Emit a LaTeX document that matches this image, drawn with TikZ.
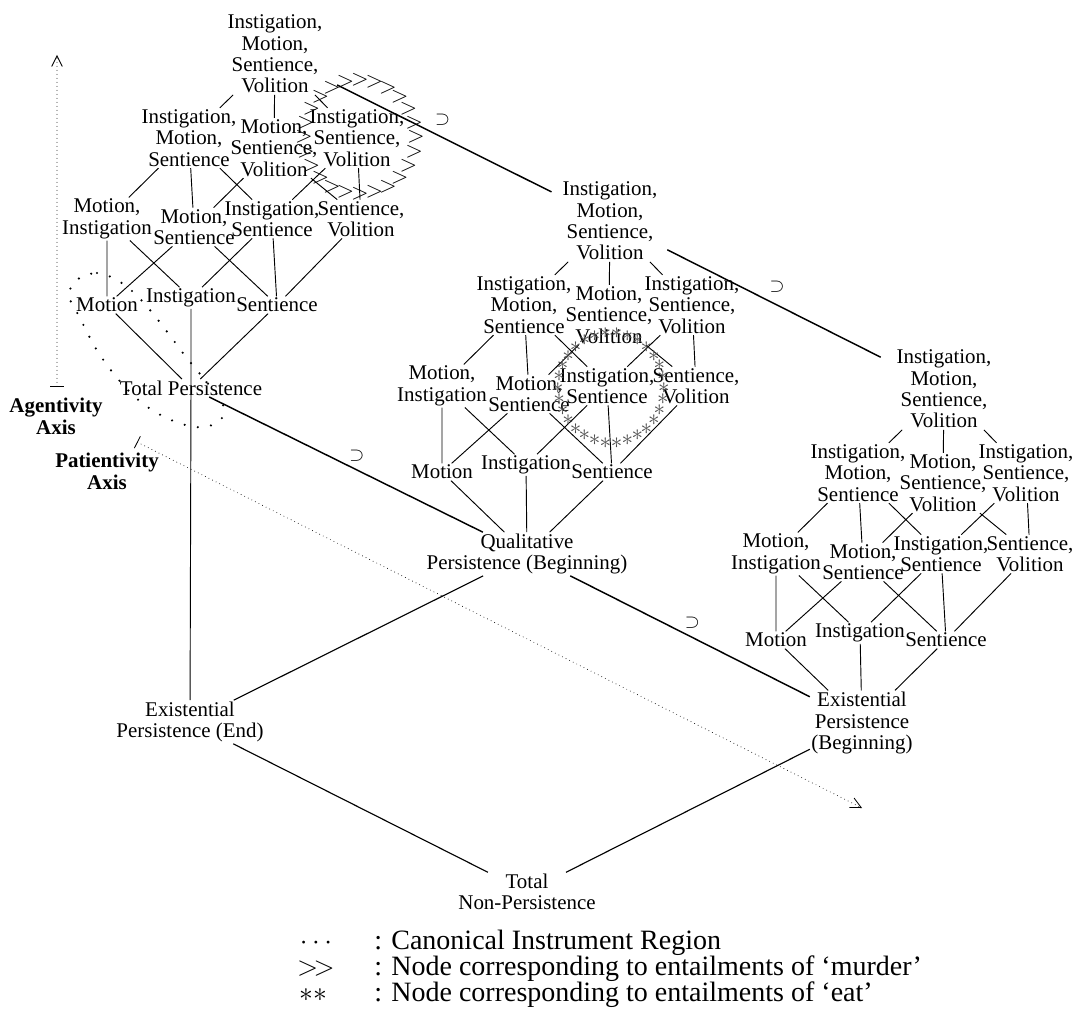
\documentclass[tikz,border=0pt]{standalone}
\usepackage{fontspec}
\setmainfont{Liberation Serif}
\usetikzlibrary{arrows.meta,calc}
\newcommand\mylattice[3]{%
\begin{scope}[shift={(#2,#3)}]
\node[lab] (#1t) at (275,54) {Instigation,\\Motion,\\Sentience,\\Volition};
\node[lab] (#1ims) at (189,138) {Instigation,\\Motion,\\Sentience};
\node[lab] (#1msv) at (274,148) {Motion,\\Sentience,\\Volition};
\node[lab] (#1isv) at (357,138) {Instigation,\\Sentience,\\Volition};
\node[lab] (#1mi) at (107,219) {Motion,\\Instigation};
\node[lab] (#1ms) at (194,227) {Motion,\\Sentience};
\node[lab] (#1is) at (272,219) {Instigation,\\Sentience};
\node[lab] (#1sv) at (361,219) {Sentience,\\Volition};
\node[lab] (#1m) at (107,305) {Motion};
\node[lab] (#1i) at (191,298) {Instigation};
\node[lab] (#1s) at (277,305) {Sentience};
\draw[edge] (#1t)--(#1ims) (#1t)--(#1msv) (#1t)--(#1isv)
  (#1ims)--(#1mi) (#1ims)--(#1ms) (#1ims)--(#1is)
  (#1msv)--(#1ms) (#1msv)--(#1sv)
  (#1isv)--(#1is) (#1isv)--(#1sv)
  (#1mi)--(#1m) (#1mi)--(#1i) (#1ms)--(#1m) (#1ms)--(#1s)
  (#1is)--(#1i) (#1is)--(#1s) (#1sv)--(#1s);
\end{scope}}
\begin{document}
\begin{tikzpicture}[x=0.75pt,y=-0.75pt,
  lab/.style={align=center,inner sep=1pt,font=\fontsize{15.7}{16.1}\selectfont},
  blab/.style={lab,font=\fontsize{15.7}{16.6}\selectfont\bfseries},
  edge/.style={line width=0.7pt},
  bigedge/.style={line width=0.85pt},
  incl/.style={line width=1.1pt},
  supl/.style={inner sep=0pt,font=\fontsize{15.7}{16}\selectfont},
  axisline/.style={line width=0.7pt,dash pattern=on 0pt off 3pt,line cap=round},
  canon/.style={line width=1.8pt,dash pattern=on 0pt off 10pt,line cap=round},
  gtmark/.style={inner sep=0pt,font=\fontsize{16}{16}\selectfont},
  starmark/.style={inner sep=0pt,text=black!70,font=\fontsize{18}{18}\selectfont},
  legsym/.style={inner sep=0pt,anchor=base,font=\fontsize{21}{22}\selectfont},
  legtxt/.style={inner sep=0pt,anchor=base west,font=\fontsize{21}{22}\selectfont},
  axtip/.tip={Straight Barb[length=8pt,width=8pt,line width=0.6pt]},
  axbar/.tip={Bar[width=10pt,line width=0.6pt]}]
\useasboundingbox (0,0) rectangle (1078,1027);

% three lattices
\mylattice{L}{0}{0}
\mylattice{M}{335}{167}
\mylattice{R}{669}{335}

% persistence nodes
\node[lab] (tp) at (191,388) {Total Persistence};
\node[lab] (qp) at (527,554) {Qualitative\\Persistence (Beginning)};
\node[lab] (epe) at (190,722) {Existential\\Persistence (End)};
\node[lab] (epb) at (862,723) {Existential\\Persistence\\(Beginning)};
\node[lab] (tnp) at (527,892) {Total\\Non-Persistence};

% lattice bottoms to persistence nodes
\draw[edge] (Lm)--(tp) (Ls)--(tp);
\draw[edge] (Li)--(tp.center)--(epe);
\draw[edge] (Mm)--(qp) (Mi)--(qp) (Ms)--(qp);
\draw[edge] (Rm)--(epb) (Ri)--(epb) (Rs)--(epb);

% persistence diamond
\draw[bigedge] (epe)--(qp);
\draw[bigedge] (epe)--(tnp);
\draw[bigedge] (tnp)--(epb);
\draw[incl] (tp)--(qp) node[supl,pos=0.54,yshift=10.5pt] (s3) {$\supset$};
\draw[incl] (qp)--(epb) node[supl,pos=0.51,yshift=11pt] (s4) {$\supset$};

% top-to-top inclusions
\draw[incl,shorten <=11pt,shorten >=8pt] (Lt)--(Mt) node[supl,pos=0.5,yshift=13.5pt] (s1) {$\supset$};
\draw[incl,shorten <=7pt,shorten >=12pt] (Mt)--(Rt) node[supl,pos=0.5,yshift=13.5pt] (s2) {$\supset$};

% axes
\coordinate (ag0) at (57,387);
\coordinate (ag1) at (57,55);
\draw[axisline,axbar-axtip] (ag0)--(ag1);
\node[blab] (agl) at (56,416) {Agentivity\\Axis};
\coordinate (pa0) at (137,442);
\coordinate (pa1) at (862,808);
\draw[axisline,axbar-axtip] (pa0)--(pa1);
\node[blab] (pal) at (107,471) {Patientivity\\Axis};

% canonical instrument region
\draw[canon] plot[smooth cycle,tension=0.6] coordinates {
 (78,279) (97,273) (115,279) (132,291) (150,310) (168,333) (186,357)
 (205,380) (222,402) (222,418) (205,427) (182,424) (157,413) (135,397)
 (113,373) (95,347) (80,318) (69,295)};

% 'murder' ring
\foreach \a in {0,15,...,345}
  \node[gtmark] (mur\a) at ($(Lisv.center)+(3,-1)+(\a:56 and 57)$) {$>$};

% 'eat' ring
\foreach \a in {0,12,...,348}
  \node[starmark] (eat\a) at ($(Mis.center)+(4,2)+(\a:53 and 55)$) {$\ast$};

% legend
\node[legsym] (k1) at (316,949) {$\cdots$};
\node[legtxt] (t1) at (374,949) {: Canonical Instrument Region};
\node[legsym] (k2) at (316,975) {$>\!>$};
\node[legtxt] (t2) at (374,975) {: Node corresponding to entailments of ‘murder’};
\node[legsym] (k3) at (313,1001) {$\ast\ast$};
\node[legtxt] (t3) at (374,1001) {: Node corresponding to entailments of ‘eat’};
\end{tikzpicture}
\end{document}
